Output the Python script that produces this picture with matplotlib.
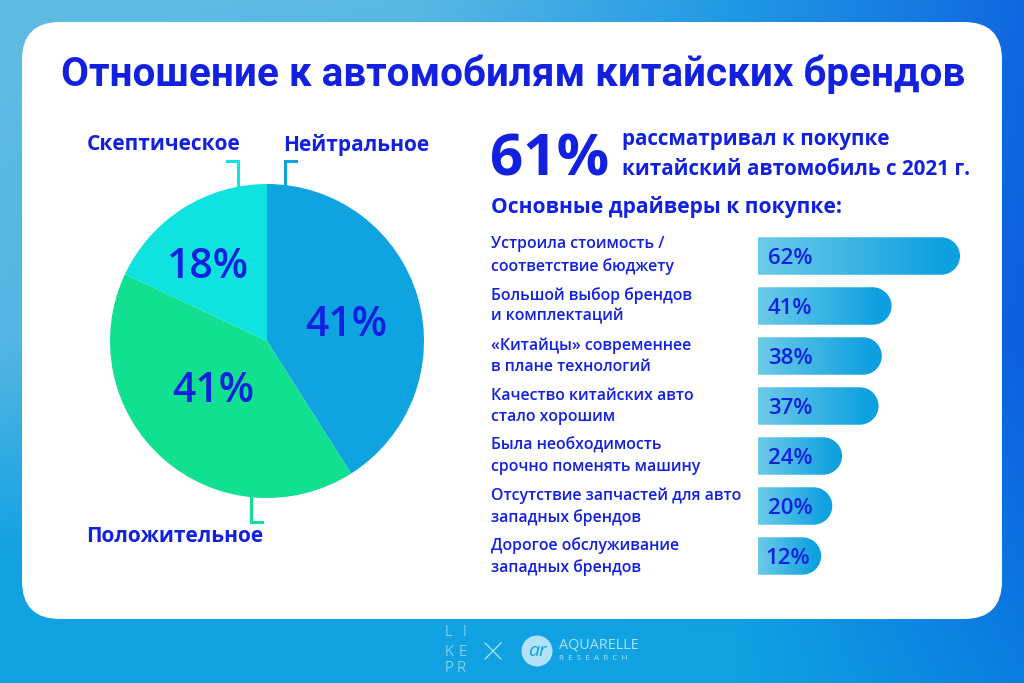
import numpy as np
import matplotlib
matplotlib.use("Agg")
import matplotlib.pyplot as plt
from matplotlib.patches import FancyBboxPatch, PathPatch, Circle
from matplotlib.path import Path
from matplotlib.colors import to_rgb

plt.rcParams['font.family'] = ['Open Sans', 'DejaVu Sans']

W, H = 1024, 683
TEXT = '#1220e0'

# data
pie_labels = ['Нейтральное', 'Положительное', 'Скептическое']
pie_values = [41, 41, 18]
pie_colors = ['#0fa3e0', '#10e08f', '#0fe3e0']

driver_labels = ['Устроила стоимость /\nсоответствие бюджету',
                 'Большой выбор брендов\nи комплектаций',
                 '«Китайцы» современнее\nв плане технологий',
                 'Качество китайских авто\nстало хорошим',
                 'Была необходимость\nсрочно поменять машину',
                 'Отсутствие запчастей для авто\nзападных брендов',
                 'Дорогое обслуживание\nзападных брендов']
driver_values = [62, 41, 38, 37, 24, 20, 12]
# the bars in the picture are not to scale for the small values, so the drawn length is kept apart
driver_lengths = [62, 41, 38, 37, 25.8, 22.8, 19.4]

# background colours read along the edges of the picture
bg_cols = [0, 0.4, 0.72, 1]
bg_rows = [0, 0.5, 0.8, 1]
bg_colors = [['#5fbce4', '#5ab9e4', '#2098e5', '#1068e0'],
             ['#55b6e3', '#40ace4', '#1a88e4', '#0c5fe0'],
             ['#14a2e2', '#12a2e2', '#10a0e2', '#0c70e0'],
             ['#10a3e2', '#10a3e2', '#10a3e2', '#0a7de0']]


def axes_px(x0, y0, x1, y1):
    return fig.add_axes([x0 / W, 1 - y1 / H, (x1 - x0) / W, (y1 - y0) / H])


fig = plt.figure(figsize=(W / 100, H / 100), dpi=100)

# background gradient
bg = axes_px(0, 0, W, H)
bg.set_xlim(0, W)
bg.set_ylim(H, 0)
bg.axis('off')
ctrl = np.array([[to_rgb(c) for c in row] for row in bg_colors])
us = np.linspace(0, 1, 256)
vs = np.linspace(0, 1, 171)
grad = np.zeros((171, 256, 3))
for c in range(3):
    across = np.array([np.interp(us, bg_cols, ctrl[r, :, c]) for r in range(4)])
    for j in range(256):
        grad[:, j, c] = np.interp(vs, bg_rows, across[:, j])
bg.imshow(grad, extent=(0, W, H, 0), aspect='auto', interpolation='bilinear', zorder=0)
bg.set_xlim(0, W)
bg.set_ylim(H, 0)

# white card
bg.add_patch(FancyBboxPatch((22 + 38, 22 + 38), 980 - 76, 597 - 76,
                            boxstyle='round,pad=38,rounding_size=38',
                            fc='white', ec='none', zorder=1))

# title and headline
bg.text(513, 74, 'Отношение к автомобилям китайских брендов', color=TEXT, fontsize=29.05,
        fontweight='bold', family=['Roboto', 'DejaVu Sans'], ha='center', va='center', zorder=3)
bg.text(490, 160, '61%', color=TEXT, fontsize=42, fontweight='bold', ha='left', va='center', zorder=3)
bg.text(622, 140, 'рассматривал к покупке', color=TEXT, fontsize=14.9, fontweight='bold', va='center', zorder=3)
bg.text(622, 169.5, 'китайский автомобиль с 2021 г.', color=TEXT, fontsize=14.9, fontweight='bold', va='center', zorder=3)
bg.text(491, 207, 'Основные драйверы к покупке:', color=TEXT, fontsize=15.1, fontweight='bold', va='center', zorder=3)

# pie
ax_pie = axes_px(267 - 157, 341 - 157, 267 + 157, 341 + 157)
ax_pie.pie(pie_values, colors=pie_colors, startangle=90, counterclock=False, radius=1)
ax_pie.set_xlim(-1, 1)
ax_pie.set_ylim(-1, 1)

pie_text_pos = [(0.505, 0.10), (-0.345, -0.32), (-0.375, 0.47)]
for val, pos in zip(pie_values, pie_text_pos):
    ax_pie.text(pos[0], pos[1], f'{val}%', color=TEXT, fontsize=29.5, fontweight='semibold',
                ha='center', va='center', zorder=5)

label_pos = [(283, 145), (86, 537), (87, 145)]
for lab, pos in zip(pie_labels, label_pos):
    bg.text(pos[0], pos[1], lab, color=TEXT, fontsize=15, fontweight='bold', va='center', zorder=3)

# little brackets from the slices to the labels
bg.plot([285, 285, 296], [186, 160.5, 160.5], color=pie_colors[0], lw=2.2, solid_joinstyle='miter', zorder=2)
bg.plot([251, 251, 262], [498, 522, 522], color=pie_colors[1], lw=2.2, solid_joinstyle='miter', zorder=2)
bg.plot([227, 238, 238], [160.5, 160.5, 188], color=pie_colors[2], lw=2.2, solid_joinstyle='miter', zorder=2)

# bars
ax_bar = axes_px(758, 231, 960, 581)
ax_bar.set_xlim(0, 62)
ax_bar.set_ylim(6.5, -0.5)
ax_bar.axis('off')
ax_bar.patch.set_alpha(0)
bar_h = 0.75
rx = 19 / (202 / 62)
ry = bar_h / 2
k = 0.5523
left_col, right_col = to_rgb('#6ccbe9'), to_rgb('#0ea0e0')
for i, (val, length) in enumerate(zip(driver_values, driver_lengths)):
    x1 = length
    t, b = i - ry, i + ry
    verts = [(0, t), (x1 - rx, t),
             (x1 - rx + k * rx, t), (x1, i - k * ry), (x1, i),
             (x1, i + k * ry), (x1 - rx + k * rx, b), (x1 - rx, b),
             (0, b), (0, t)]
    codes = [Path.MOVETO, Path.LINETO,
             Path.CURVE4, Path.CURVE4, Path.CURVE4,
             Path.CURVE4, Path.CURVE4, Path.CURVE4,
             Path.LINETO, Path.CLOSEPOLY]
    shape = PathPatch(Path(verts, codes), fc='none', ec='none', transform=ax_bar.transData)
    ax_bar.add_patch(shape)
    ramp = np.zeros((1, 128, 3))
    for c in range(3):
        ramp[0, :, c] = np.minimum(np.linspace(0, 1.1, 128), 1) * (right_col[c] - left_col[c]) + left_col[c]
    im = ax_bar.imshow(ramp, extent=(0, x1, b, t), aspect='auto', zorder=2)
    im.set_clip_path(shape)
    label_x = 2.2 if val == 12 else 3
    ax_bar.text(label_x, i + 0.05, f'{val}%', color=TEXT, fontsize=16, fontweight='semibold',
                va='center', zorder=4)
    bg.text(491, 255.5 + i * 50.2, driver_labels[i], color=TEXT, fontsize=11.4, fontweight='semibold',
            va='center', linespacing=1.42, zorder=3)
ax_bar.set_xlim(0, 62)
ax_bar.set_ylim(6.5, -0.5)

# logos in the footer
logo = '#b2e2f7'
for ch, x, y in [('L', 444, 633), ('I', 462, 633), ('K', 444, 652), ('E', 458, 652), ('P', 444, 669), ('R', 457, 669)]:
    bg.text(x, y, ch, color=logo, fontsize=11, fontweight='light', va='center', zorder=3)
bg.plot([485, 501], [643, 659], color=logo, lw=0.9, zorder=3)
bg.plot([485, 501], [659, 643], color=logo, lw=0.9, zorder=3)
bg.add_patch(Circle((537, 651), 15.5, fc=logo, ec='none', zorder=3))
bg.text(537, 651, 'ar', color='#0fa3e0', fontsize=14, style='italic', ha='center', va='center', zorder=4)
bg.text(559, 645, 'AQUARELLE', color=logo, fontsize=10.4, va='center', zorder=3)
bg.text(559, 659, 'R  E  S  E  A  R  C  H', color=logo, fontsize=5.8, va='center', zorder=3)

fig.savefig('out.png', dpi=100)
